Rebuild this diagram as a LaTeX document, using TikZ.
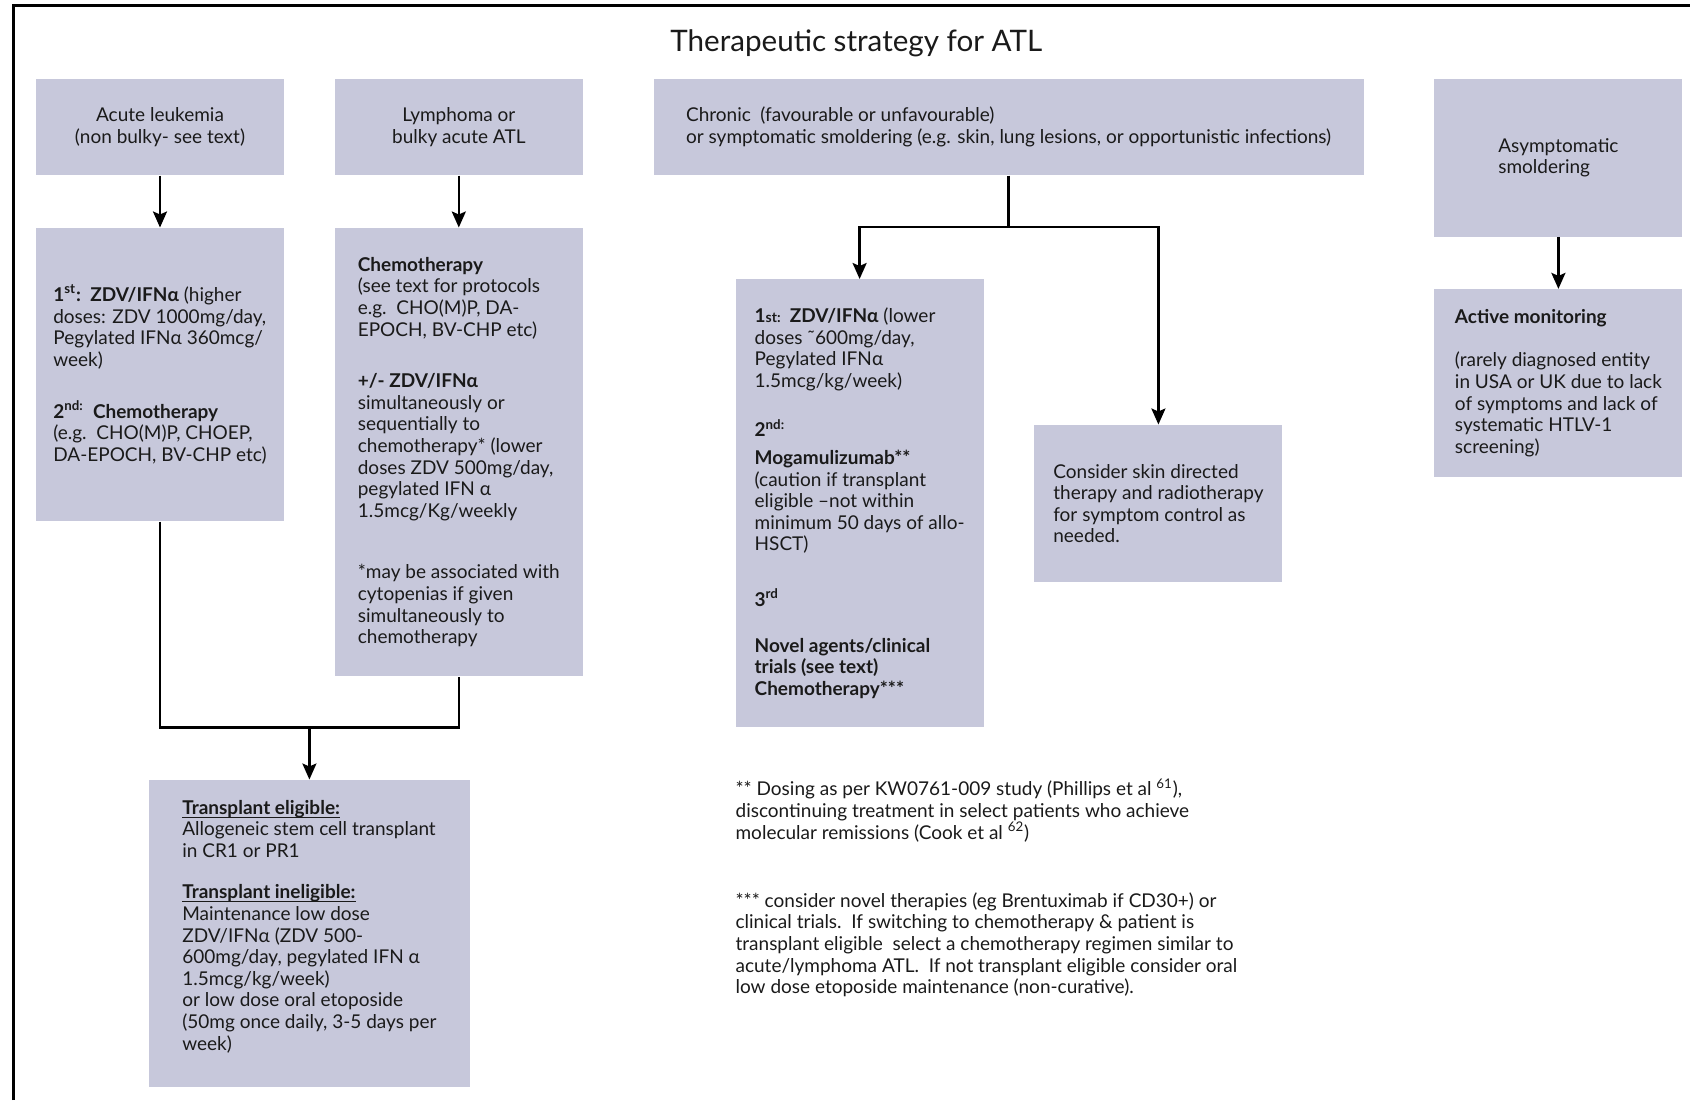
\documentclass[tikz,border=0pt]{standalone}
\usepackage{fontspec}
\setmainfont{Lato}
\usepackage{xcolor}
\usetikzlibrary{positioning,arrows.meta,calc}
\definecolor{atlBox}{HTML}{C7C8DB}
\definecolor{atlInk}{HTML}{1A1A1A}
\tikzset{
  box/.style={fill=atlBox, inner sep=0pt, align=left, text=atlInk,
              font=\fontsize{9.5}{10.8}\selectfont},
  head/.style={box, minimum width=124pt, minimum height=48pt, align=center},
  tall/.style={box, minimum width=124pt},
  flow/.style={-{Stealth[length=8pt, width=7pt, inset=1.5pt]}, line width=1.2pt},
  tie/.style={line width=1.2pt},
  note/.style={font=\fontsize{9.5}{10.8}\selectfont, align=left, inner sep=0pt,
               text=atlInk},
  heading/.style={font=\fontsize{14.8}{17}\selectfont, inner sep=0pt, text=atlInk},
}
\newcommand{\ulhead}[1]{\underline{\smash{#1}}}

\begin{document}
\begin{tikzpicture}[x=0.5pt, y=-0.5pt]
\useasboundingbox (0,0) rectangle (1690,1100);

%% ── frame and title ──────────────────────────────────────────────────────
\draw[line width=1.5pt] (13,1100) |- (1690,5);
\node[heading, anchor=base] (title) at (856.3,51.7) {Therapeutic strategy for ATL};

%% ── the four presentations ───────────────────────────────────────────────
\node[head, anchor=north west] (acute) at (35.6,78.7)
  {Acute leukemia\\(non bulky- see text)};
\node[head, right=25pt of acute] (lymph)
  {Lymphoma or\\bulky acute ATL};
\node[head, align=left, minimum width=355pt, right=35pt of lymph] (chronic)
  {Chronic\enspace(favourable or unfavourable)\\
   or symptomatic smoldering (e.g. skin, lung lesions, or opportunistic infections)};
\node[tall, minimum height=78.7pt, anchor=north west] (asym)
  at ([xshift=35pt]chronic.north east) {Asymptomatic\\smoldering};

%% ── first treatment boxes ────────────────────────────────────────────────
\node[tall, minimum height=146.6pt, below=26pt of acute] (acutetx)
  {\textbf{1\textsuperscript{st}:\ \ ZDV/IFNα} (higher\\
   doses: ZDV 1000mg/day,\\
   Pegylated IFNα 360mcg/\\
   week)\\[15pt]
   \textbf{2\textsuperscript{nd:}\ \ Chemotherapy}\\
   (e.g.\ \ CHO(M)P, CHOEP,\\
   DA-EPOCH, BV-CHP etc)};
\node[tall, minimum height=224.2pt, below=26pt of lymph] (lymphtx)
  {\textbf{Chemotherapy}\\
   (see text for protocols\\
   e.g.\ \ CHO(M)P, DA-\\
   EPOCH, BV-CHP etc)\\[15pt]
   \textbf{+/- ZDV/IFNα}\\
   simultaneously or\\
   sequentially to\\
   chemotherapy* (lower\\
   doses ZDV 500mg/day,\\
   pegylated IFN α\\
   1.5mcg/Kg/weekly\\[20pt]
   *may be associated with\\
   cytopenias if given\\
   simultaneously to\\
   chemotherapy};
\node[tall, minimum height=223.7pt, anchor=north west] (chrontx)
  at ([xshift=41pt, yshift=-51.75pt]chronic.south west)
  {\textbf{1{\fontsize{7}{8}\selectfont st:}\ \ ZDV/IFNα} (lower\\
   doses ˜600mg/day,\\
   Pegylated IFNα\\
   1.5mcg/kg/week)\\[14pt]
   \textbf{2\textsuperscript{nd:}}\\[3pt]
   \textbf{Mogamulizumab**}\\
   (caution if transplant\\
   eligible –not within\\
   minimum 50 days of allo-\\
   HSCT)\\[17pt]
   \textbf{3\textsuperscript{rd}}\\[12pt]
   \textbf{Novel agents/clinical}\\
   \textbf{trials (see text)}\\
   \textbf{Chemotherapy***}};
\node[tall, minimum height=78.7pt, anchor=north west] (skin)
  at ([xshift=25pt, yshift=-72.75pt]chrontx.north east)
  {Consider skin directed\\
   therapy and radiotherapy\\
   for symptom control as\\
   needed.};
\node[tall, minimum height=93.7pt, below=26pt of asym] (monitor)
  {\textbf{Active monitoring}\\[11pt]
   (rarely diagnosed entity\\
   in USA or UK due to lack\\
   of symptoms and lack of\\
   systematic HTLV-1\\
   screening)};

%% ── after induction ──────────────────────────────────────────────────────
\coordinate (join) at ($(acutetx.south)!0.5!(acutetx.south -| lymphtx.south) + (0,-103pt)$);
\node[box, minimum width=160.6pt, minimum height=153.6pt, below=26pt of join] (allo)
  {\textbf{\ulhead{Transplant eligible:}}\\
   Allogeneic stem cell transplant\\
   in CR1 or PR1\\[10pt]
   \textbf{\ulhead{Transplant ineligible:}}\\
   Maintenance low dose\\
   ZDV/IFNα (ZDV 500-\\
   600mg/day, pegylated IFN α\\
   1.5mcg/kg/week)\\
   or low dose oral etoposide\\
   (50mg once daily, 3-5 days per\\
   week)};

%% ── connectors ───────────────────────────────────────────────────────────
\draw[flow] (acute) -- (acutetx);
\draw[flow] (lymph) -- (lymphtx);
\draw[flow] (asym) -- (monitor);
\coordinate (fork) at ([yshift=-25.85pt]chronic.south);
\draw[tie] (chronic.south) -- (fork);
\draw[flow] (fork) -| (chrontx.north);
\draw[flow] (fork) -| (skin.north);
\draw[tie] (acutetx.south) |- (join) -| (lymphtx.south);
\draw[flow] (join) -- (allo.north);

%% ── footnotes under the chronic column ───────────────────────────────────
\node[note, anchor=north west] (dosing) at ([yshift=-25.5pt]chrontx.south west)
  {** Dosing as per KW0761-009 study (Phillips et al \textsuperscript{61}),\\
   discontinuing treatment in select patients who achieve\\
   molecular remissions (Cook et al \textsuperscript{62})};
\node[note, anchor=north west] (novel) at ([yshift=-57pt]dosing.north west)
  {*** consider novel therapies (eg Brentuximab if CD30+) or\\
   clinical trials.\ \ If switching to chemotherapy \& patient is\\
   transplant eligible\ \ select a chemotherapy regimen similar to\\
   acute/lymphoma ATL.\ \ If not transplant eligible consider oral\\
   low dose etoposide maintenance (non-curative).};

\end{tikzpicture}
\end{document}
